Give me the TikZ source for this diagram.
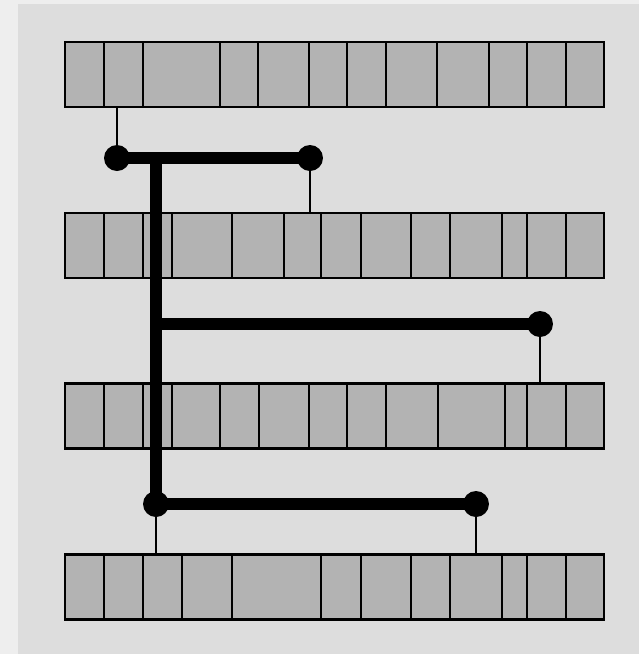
\documentclass[tikz,border=0pt]{standalone}
\usepackage{tikz}
\usetikzlibrary{positioning}
\definecolor{pagegray}{HTML}{EEEEEE}
\definecolor{panelgray}{HTML}{DDDDDD}
\definecolor{cellgray}{HTML}{B3B3B3}

\begin{document}
\begin{tikzpicture}[x=0.02cm, y=-0.02cm,
  reg/.style={draw, fill=cellgray, line width=1.3pt, minimum width=10.78cm,
              minimum height=1.3cm, inner sep=0pt, outer sep=0pt},
  sep/.style={line width=1.1pt},
  pin/.style={circle, fill=black, minimum size=0.52cm, inner sep=0pt},
  bus/.style={line width=6.8pt},
  tap/.style={line width=0.85pt}
]
  \useasboundingbox (0,0) rectangle (639,654);
  \fill[pagegray] (0,0) rectangle (639,654);
  \fill[panelgray] (18,4) rectangle (639,654);

  % registers
  \node[reg] (r1) at (334.5,74.5) {};
  \node[reg] (r2) at (334.5,245.5) {};
  \node[reg] (r3) at (334.5,416) {};
  \node[reg] (r4) at (334.5,587) {};
  \foreach \r/\xs in {r1/{104,143,220,258,309,347,386,437,489,527,566},
                      r2/{104,143,172,232,284,321,361,411,450,502,527,566},
                      r3/{104,143,172,220,259,309,347,386,438,505,527,566},
                      r4/{104,143,182,232,321,361,411,450,502,527,566}}
    \foreach \x in \xs
      \draw[sep] (\x,0 |- \r.north) -- (\x,0 |- \r.south);

  % taps and buses
  \coordinate (a1) at (117,158);
  \coordinate (a2) at (310,158);
  \coordinate (b2) at (540,324);
  \coordinate (c1) at (156,504);
  \coordinate (c2) at (476,504);
  \coordinate (t) at (156,158);
  \coordinate (b1) at (156,324);

  \draw[tap] (a1) -- (a1 |- r1.south);
  \draw[tap] (a2) -- (a2 |- r2.north);
  \draw[tap] (b2) -- (b2 |- r3.north);
  \draw[tap] (c1) -- (c1 |- r4.north);
  \draw[tap] (c2) -- (c2 |- r4.north);

  \draw[bus] (a1) -- (a2);
  \draw[bus] (t) -- (c1);
  \draw[bus] (b1) -- (b2);
  \draw[bus] (c1) -- (c2);

  \foreach \p in {a1,a2,b2,c1,c2}
    \node[pin] (\p pin) at (\p) {};
\end{tikzpicture}
\end{document}
